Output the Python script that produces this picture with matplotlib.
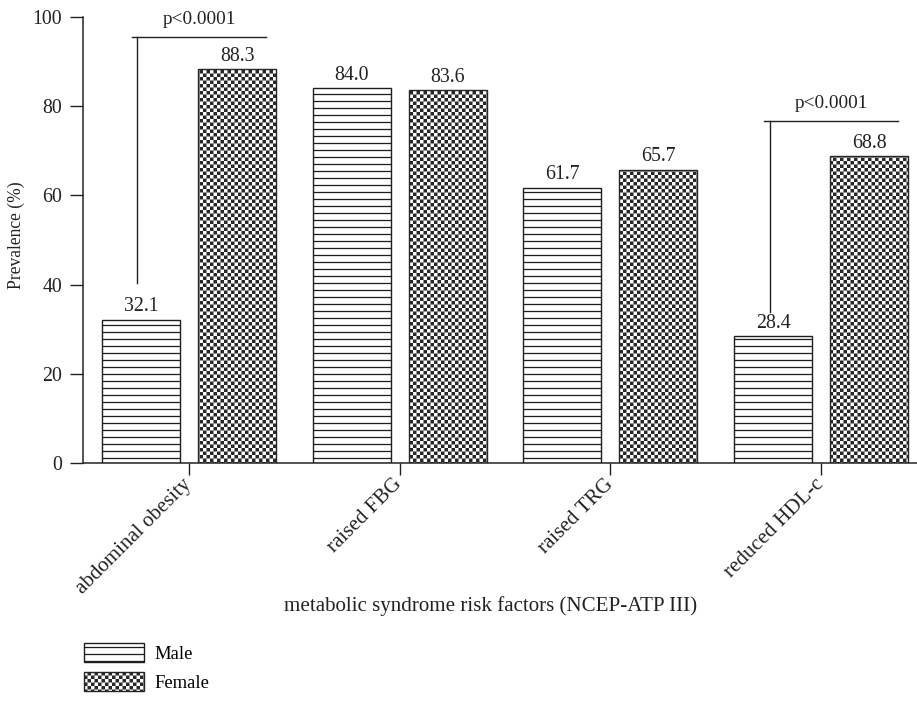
import numpy as np
import matplotlib
matplotlib.use("Agg")
import matplotlib.pyplot as plt
import matplotlib.hatch as mhatch
from matplotlib.path import Path

categories = ["abdominal obesity", "raised FBG", "raised TRG", "reduced HDL-c"]
male = [32.1, 84.0, 61.7, 28.4]
female = [88.3, 83.6, 65.7, 68.8]
# significance brackets: (category index, bracket top, bracket bottom, text)
brackets = [(0, 95.5, 40.4, "p<0.0001"), (3, 76.7, 33.9, "p<0.0001")]

HATCH_LW = 1.1
DPI = 84

plt.rcParams['font.family'] = ['Liberation Serif', 'DejaVu Serif']
plt.rcParams['hatch.linewidth'] = HATCH_LW


# checkerboard hatch, takes the place of the '*' stars pattern
class CheckerHatch(mhatch.HatchPatternBase):
    def __init__(self, hatch, density):
        self.num_cells = hatch.count('*') * density
        self.num_vertices = (self.num_cells ** 2 // 2) * 5

    def set_vertices_and_codes(self, vertices, codes):
        n = self.num_cells
        s = 1.0 / n
        m = HATCH_LW / 72 / 2
        sq = np.array([[m, m], [s - m, m], [s - m, s - m], [m, s - m], [m, m]])
        parts = []
        for r in range(n):
            for c in range(n):
                if (r + c) % 2 == 0:
                    parts.append(sq + [c * s, r * s])
        vertices[:] = np.concatenate(parts)
        codes[:] = np.tile([Path.MOVETO, Path.LINETO, Path.LINETO,
                            Path.LINETO, Path.CLOSEPOLY], n * n // 2)


mhatch._hatch_types = [h for h in mhatch._hatch_types if h is not mhatch.Stars]
mhatch._hatch_types.append(CheckerHatch)

fig = plt.figure(figsize=(917 / DPI, 703 / DPI), dpi=DPI)
ax = fig.add_axes([83 / 917, 1 - 463 / 703, 834 / 917, 446 / 703])

x = np.arange(len(categories))
w = 0.37
off = 0.228
b1 = ax.bar(x - off, male, w, facecolor='white', edgecolor='#1e1e1e',
            hatch='--', linewidth=1.2, label='Male')
b2 = ax.bar(x + off, female, w, facecolor='white', edgecolor='#262626',
            hatch='****', linewidth=1.2, label='Female')

ax.bar_label(b1, fmt='%.1f', padding=3, fontsize=17, color='#222')
ax.bar_label(b2, fmt='%.1f', padding=3, fontsize=17, color='#222')

for i, top, bottom, txt in brackets:
    xv = i - 0.245
    ax.plot([xv, xv], [bottom, top], color='#222', lw=1.2)
    ax.plot([i - 0.27, i + 0.365], [top, top], color='#222', lw=1.2)
    ax.text(i + 0.048, top + 3, txt, ha='center', va='baseline',
            fontsize=16.5, color='#222')

ax.set_xlim(-0.503, 3.455)
ax.set_ylim(0, 100)
ax.set_yticks(range(0, 101, 20))
ax.set_xticks(x)
ax.set_xticklabels(categories, rotation=45, ha='right', va='center',
                   rotation_mode='anchor', fontsize=18)
ax.tick_params(axis='y', length=11, width=1.2, pad=7, labelsize=17,
               colors='#222')
ax.tick_params(axis='x', length=10, width=1.2, pad=6, colors='#222')
for side in ['top', 'right']:
    ax.spines[side].set_visible(False)
for side in ['left', 'bottom']:
    ax.spines[side].set_linewidth(1.3)
    ax.spines[side].set_color('#222')

ax.set_ylabel("Prevalence (%)", fontsize=15, color='#222')
ax.yaxis.set_label_coords(-(83 - 25) / 834, (463 - 235) / 446)
fig.text(491 / 917, 1 - 606 / 703, "metabolic syndrome risk factors (NCEP-ATP III)",
         ha='center', va='center', fontsize=18, color='#222')

fig.legend(handles=[b1, b2], loc='upper left',
           bbox_to_anchor=(84 / 917, 1 - 643 / 703), frameon=False,
           fontsize=16, handlelength=3.2, handleheight=1.23,
           labelspacing=0.48, handletextpad=0.59, borderpad=0,
           borderaxespad=0)

fig.savefig("out.png", dpi=DPI)
